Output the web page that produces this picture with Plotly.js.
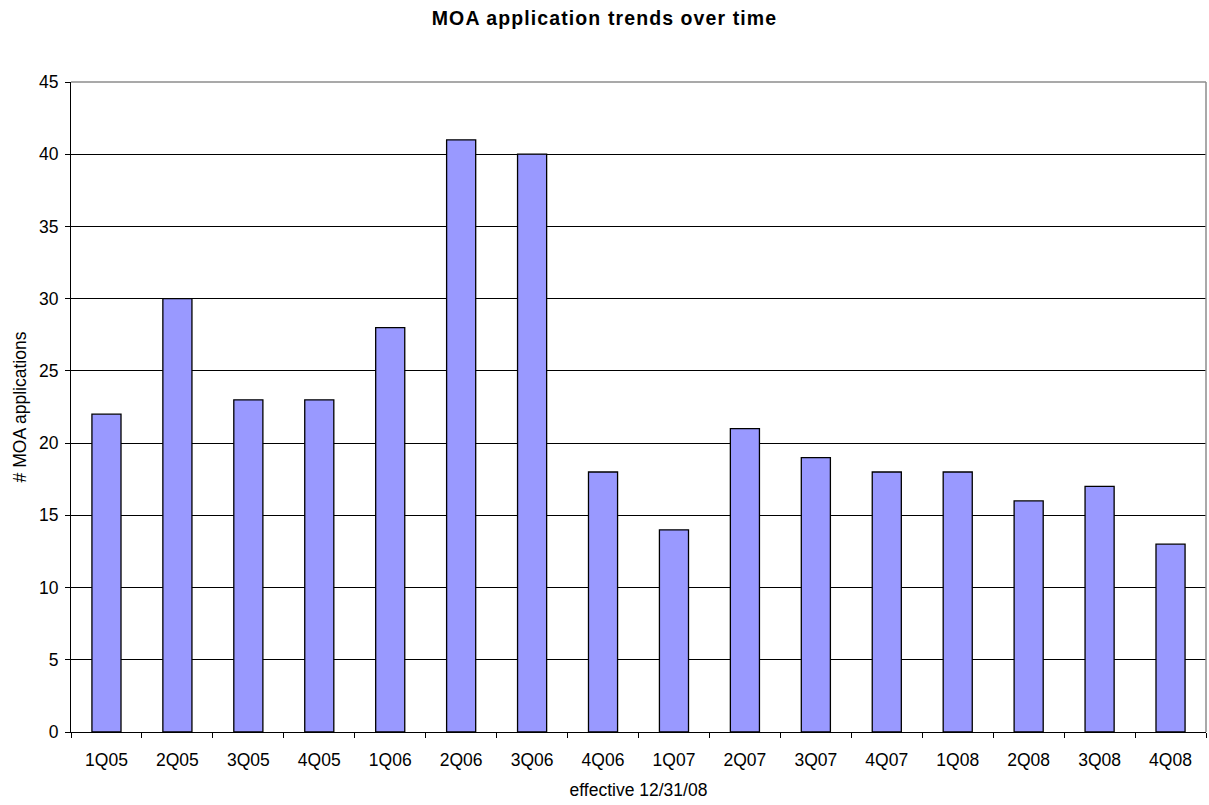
<!DOCTYPE html>
<html>
<head>
<meta charset="utf-8">
<script src="https://cdn.plot.ly/plotly-3.0.1.min.js"></script>
<style>
  html, body { margin: 0; padding: 0; background: #fff; }
  #chart { width: 1209px; height: 805px; }
  /* slightly open tracking on the bold heading */
  #chart .gtitle { letter-spacing: 1.1px; }
</style>
</head>
<body>
<div id="chart"></div>
<script>
// Quarterly MOA application counts
const quarters = ["1Q05", "2Q05", "3Q05", "4Q05", "1Q06", "2Q06", "3Q06", "4Q06",
                  "1Q07", "2Q07", "3Q07", "4Q07", "1Q08", "2Q08", "3Q08", "4Q08"];
const applications = [22, 30, 23, 23, 28, 41, 40, 18, 14, 21, 19, 18, 18, 16, 17, 13];
const yTicks = [0, 5, 10, 15, 20, 25, 30, 35, 40, 45];

const font = "Liberation Sans, Arial, sans-serif";
const textSize = 17.5;

const trace = {
  type: "bar",
  x: quarters,
  y: applications,
  marker: { color: "#9999FF", line: { color: "#000000", width: 1.3 } },
  hoverinfo: "x+y"
};

const layout = {
  width: 1209,
  height: 805,
  paper_bgcolor: "#ffffff",
  plot_bgcolor: "#ffffff",
  margin: { l: 71, r: 3, t: 82, b: 73 },
  bargap: 0.59,
  showlegend: false,
  font: { family: font, size: textSize, color: "#000000" },
  title: {
    text: "<b>MOA application trends over time</b>",
    font: { family: font, size: 19.5, color: "#000000" },
    x: 0.5, xanchor: "center", y: 0.977, yanchor: "middle"
  },
  xaxis: {
    type: "category",
    tickson: "boundaries",
    ticks: "outside",
    ticklen: 5,
    tickcolor: "#000000",
    ticklabelstandoff: 12,
    showline: true,
    linecolor: "#000000",
    linewidth: 1,
    showgrid: false,
    zeroline: false,
    tickfont: { family: font, size: textSize },
    title: { text: "effective 12/31/08", font: { family: font, size: textSize }, standoff: 14 }
  },
  yaxis: {
    range: [0, 45],
    tickvals: yTicks,
    ticktext: yTicks.map(String),
    ticks: "outside",
    ticklen: 5,
    tickcolor: "#000000",
    ticklabelstandoff: 3,
    showline: true,
    linecolor: "#000000",
    linewidth: 1,
    showgrid: true,
    gridcolor: "#000000",
    gridwidth: 1,
    zeroline: false,
    tickfont: { family: font, size: textSize },
    title: { text: "# MOA applications", font: { family: font, size: textSize }, standoff: 7 }
  },
  shapes: [
    // grey frame along the top and right of the plot area
    { type: "line", xref: "paper", yref: "paper", x0: 0, x1: 1, y0: 1, y1: 1,
      line: { color: "#8c8c8c", width: 1.5 } },
    { type: "line", xref: "paper", yref: "paper", x0: 1, x1: 1, y0: 0, y1: 1,
      line: { color: "#8c8c8c", width: 1.5 } }
  ]
};

Plotly.newPlot("chart", [trace], layout, { displayModeBar: false, staticPlot: true });
</script>
</body>
</html>
